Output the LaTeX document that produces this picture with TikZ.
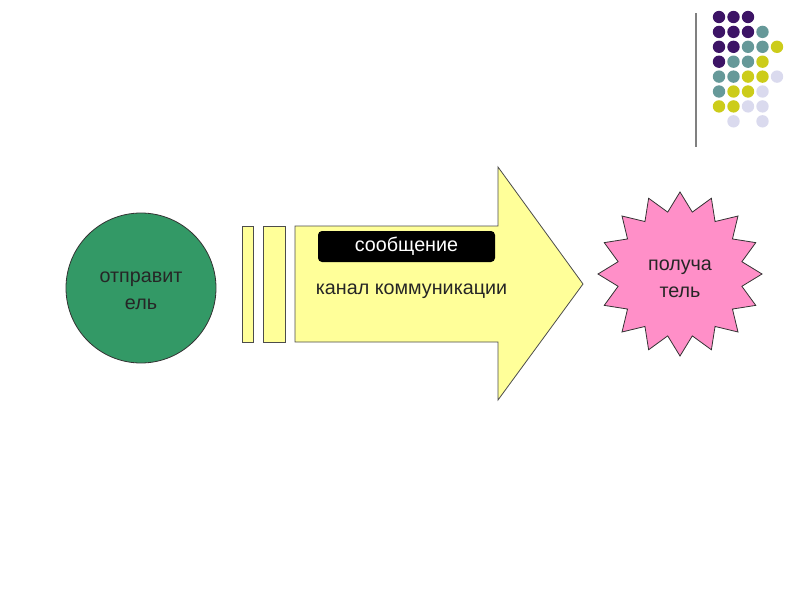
\documentclass[tikz,border=0pt]{standalone}
\usepackage{fontspec}
\setmainfont{Liberation Sans}
\usepackage{xcolor}
\usepackage{tikz}
\usetikzlibrary{shapes,positioning,calc}

\definecolor{sendgreen}{HTML}{339966}
\definecolor{chanyellow}{HTML}{FFFF99}
\definecolor{recvpink}{HTML}{FF8FC8}
\definecolor{dotP}{HTML}{3D1466}
\definecolor{dotT}{HTML}{669999}
\definecolor{dotY}{HTML}{CCCC1A}
\definecolor{dotL}{HTML}{DADAEE}

\begin{document}
\begin{tikzpicture}[
    x=0.75pt, y=-0.75pt,
    lbl/.style={font=\fontsize{14.8}{20.5}\selectfont, align=center, text=black!85},
    bar/.style={draw=black!70, fill=chanyellow, line width=0.6pt},
    sender/.style={draw=black!80, fill=sendgreen, circle, minimum size=112.5pt, inner sep=0pt, line width=0.6pt},
    receiver/.style={draw=black!80, fill=recvpink, star, star points=16, star point ratio=1.3, minimum size=123pt, inner sep=0pt, line width=0.6pt},
    msgbox/.style={fill=black, rounded corners=3pt, minimum width=132.75pt, minimum height=23.25pt, text=white, font=\fontsize{14.8}{17}\selectfont}
]
    \useasboundingbox (0,0) rectangle (800,600);

    % Decorative dot grid and line
    \draw[gray, line width=1.5pt] (696,13) -- (696,147);
    \foreach \c/\r/\col in {0/0/dotP,1/0/dotP,2/0/dotP,
                            0/1/dotP,1/1/dotP,2/1/dotP,3/1/dotT,
                            0/2/dotP,1/2/dotP,2/2/dotT,3/2/dotT,4/2/dotY,
                            0/3/dotP,1/3/dotT,2/3/dotT,3/3/dotY,
                            0/4/dotT,1/4/dotT,2/4/dotY,3/4/dotY,4/4/dotL,
                            0/5/dotT,1/5/dotY,2/5/dotY,3/5/dotL,
                            0/6/dotY,1/6/dotY,2/6/dotL,3/6/dotL,
                            1/7/dotL,3/7/dotL}
        \fill[\col] (719+14.5*\c, 17+14.9*\r) circle (6.2);

    % Sender
    \node [sender] (sender) at (141,288) {};
    \node [lbl] (sendertext) at (141,291) {отправит\\ель};

    % Channel: two bars and the arrow
    \draw [bar] (242,226) rectangle (253,342);
    \draw [bar] (263,226) rectangle (285,342);
    \draw [bar] (295,226) -- (498,226) -- (498,167) -- (583,284)
        -- (498,400) -- (498,342) -- (295,342) -- cycle;
    \node [msgbox] (message) at (406.5,246.5) {сообщение};
    \node [lbl] (channel) at (411.5,291) {канал коммуникации};

    % Receiver
    \node [receiver] (receiver) at (680,274) {};
    \node [lbl] (receivertext) at (680,279) {получа\\тель};

\end{tikzpicture}
\end{document}
